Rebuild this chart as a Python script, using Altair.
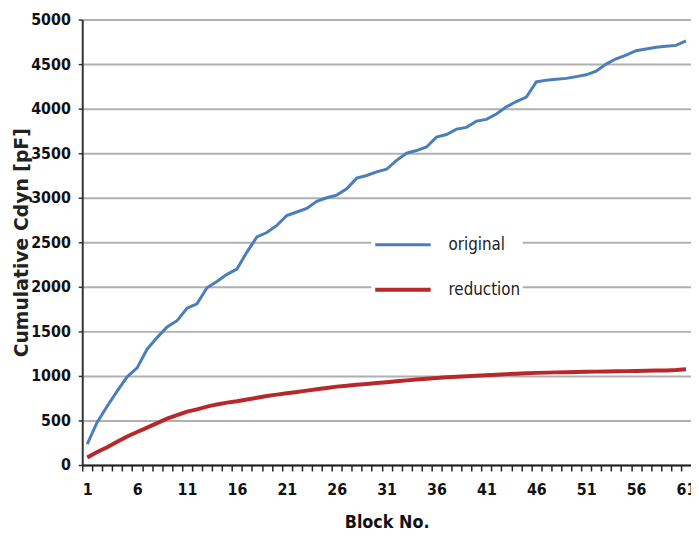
import altair as alt
import pandas as pd

blocks = list(range(1, 62))
series_names = ["original", "reduction"]
original = [235, 480, 660, 830, 990, 1090, 1300, 1430, 1550, 1620,
            1760, 1810, 1990, 2060, 2140, 2200, 2390, 2560, 2610, 2690,
            2800, 2840, 2880, 2960, 3000, 3030, 3100, 3220, 3250, 3290,
            3320, 3420, 3500, 3530, 3570, 3680, 3710, 3770, 3790, 3860,
            3880, 3940, 4020, 4080, 4130, 4300, 4320, 4330, 4340, 4360,
            4380, 4420, 4500, 4560, 4600, 4650, 4670, 4690, 4700, 4710,
            4760]
reduction = [85, 145, 200, 260, 320, 370, 420, 470, 520, 560,
             600, 625, 655, 680, 700, 715, 735, 755, 775, 790,
             805, 820, 835, 850, 865, 880, 890, 900, 910, 920,
             930, 940, 950, 960, 968, 976, 984, 990, 996, 1002,
             1008, 1014, 1020, 1025, 1030, 1034, 1037, 1040, 1042, 1044,
             1046, 1048, 1050, 1052, 1054, 1056, 1058, 1060, 1062, 1066,
             1075]
y_ticks = [0, 500, 1000, 1500, 2000, 2500, 3000, 3500, 4000, 4500, 5000]

df = pd.DataFrame({
    "block": blocks + blocks,
    "value": original + reduction,
    "series": ["original"] * len(blocks) + ["reduction"] * len(blocks),
})

NARROW = "Liberation Sans Narrow, DejaVu Sans Condensed, Arial Narrow, sans-serif"
WIDE = "DejaVu Sans, Verdana, sans-serif"

chart = alt.Chart(df).mark_line().encode(
    x=alt.X("block:Q", scale=alt.Scale(domain=[0.5, 61.5], nice=False, zero=False),
            axis=alt.Axis(values=blocks, title="Block No.", grid=False,
                          labelExpr="(datum.value - 1) % 5 === 0 ? datum.label : ''",
                          tickOffset=-5, labelOffset=5,
                          ticks=True, tickSize=6, tickWidth=1.5, tickColor="#222222",
                          domain=True, domainColor="#222222", domainWidth=2,
                          labelFont=NARROW, labelFontSize=16, labelFontWeight="bold",
                          labelColor="#111111", labelPadding=11, labelFlush=False,
                          labelOverlap=False,
                          titleFont=NARROW, titleFontSize=18, titleFontWeight="bold",
                          titleColor="#111111", titlePadding=16)),
    y=alt.Y("value:Q", scale=alt.Scale(domain=[0, 5000], nice=False),
            axis=alt.Axis(values=y_ticks, format="d", title="Cumulative Cdyn [pF]",
                          grid=True, gridColor="#b0b0b0", gridWidth=2,
                          domain=True, domainColor="#333333", domainWidth=2,
                          ticks=True, tickColor="#333333", tickSize=4, tickWidth=1.5,
                          labelFont=NARROW, labelFontSize=16, labelFontWeight="bold",
                          labelColor="#111111", labelPadding=8,
                          titleFont=WIDE, titleFontSize=19, titleFontWeight="bold",
                          titleColor="#222222", titleX=-61, titleY=225,
                          titleAngle=270, titleAlign="center", titleBaseline="middle")),
    color=alt.Color("series:N",
                    scale=alt.Scale(domain=series_names, range=["#4a7ebb", "#b8282a"]),
                    legend=alt.Legend(title=None, orient="none", legendX=292, legendY=196,
                                      symbolType="stroke", symbolSize=3136,
                                      symbolStrokeWidth=3.5, labelFont=NARROW,
                                      labelFontSize=17, labelColor="#222222",
                                      labelOffset=16, fillColor="white", padding=2,
                                      rowPadding=7)),
    strokeWidth=alt.StrokeWidth("series:N",
                                scale=alt.Scale(domain=series_names, range=[3, 4]),
                                legend=None),
).properties(
    width=615, height=450,
    background="white",
    autosize=alt.AutoSizeParams(type="none"),
    padding={"left": 75, "top": 9, "right": 0, "bottom": 66},
).configure_view(stroke=None)

chart.save("out.html", embed_options={"renderer": "svg", "actions": False})
